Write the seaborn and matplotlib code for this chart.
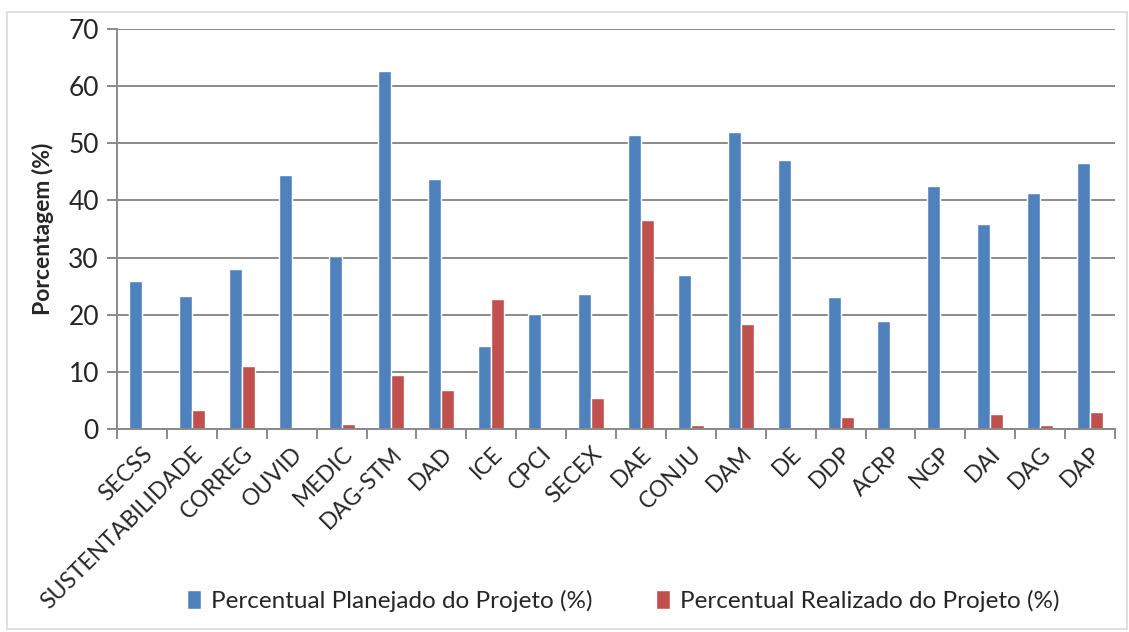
import matplotlib
matplotlib.use("Agg")
import matplotlib.pyplot as plt
from matplotlib.patches import Rectangle
import seaborn as sns
import pandas as pd

unidades = ["SECSS", "SUSTENTABILIDADE", "CORREG", "OUVID", "MEDIC", "DAG-STM", "DAD",
            "ICE", "CPCI", "SECEX", "DAE", "CONJU", "DAM", "DE", "DDP", "ACRP", "NGP",
            "DAI", "DAG", "DAP"]
planejado = [25.9, 23.2, 28.0, 44.5, 30.3, 62.6, 43.7, 14.5, 20.1, 23.7, 51.4, 27.0,
             52.0, 47.1, 23.1, 18.9, 42.6, 35.8, 41.3, 46.5]
realizado = [0.0, 3.3, 11.1, 0.0, 0.8, 9.5, 6.8, 22.8, 0.0, 5.4, 36.5, 0.7,
             18.3, 0.0, 2.1, 0.0, 0.0, 2.7, 0.7, 2.9]
series = ["Percentual Planejado do Projeto (%)", "Percentual Realizado do Projeto (%)"]
cores = ["#4F81BD", "#C0504D"]
y_ticks = [0, 10, 20, 30, 40, 50, 60, 70]

df = pd.DataFrame({
    "Unidade": unidades * 2,
    "Serie": [series[0]] * len(unidades) + [series[1]] * len(unidades),
    "Valor": planejado + realizado,
})

sns.set_style("white")
plt.rcParams["font.family"] = ["Lato", "DejaVu Sans"]

fig = plt.figure(figsize=(11.29, 6.32), dpi=100)
ax = fig.add_axes([117 / 1129, 1 - 429 / 632, (1115 - 117) / 1129, 400 / 632])

sns.barplot(data=df, x="Unidade", y="Valor", hue="Serie", palette=cores,
            width=0.52, gap=0, ax=ax, edgecolor="white", linewidth=1.0,
            saturation=1, legend=False)

ax.set_ylim(0, 70)
ax.set_xlim(-0.5, len(unidades) - 0.5)
ax.set_yticks(y_ticks)
ax.set_yticklabels([str(v) for v in y_ticks], fontsize=19)
ax.yaxis.grid(True, color="#8A8A8A", linewidth=1.4)
ax.set_axisbelow(True)

for side in ["top", "right"]:
    ax.spines[side].set_visible(False)
for side in ["left", "bottom"]:
    ax.spines[side].set_color("#8A8A8A")
    ax.spines[side].set_linewidth(1.4)

# tick marks sit on category boundaries, labels at category centres
ax.set_xticks([i - 0.5 for i in range(len(unidades) + 1)], minor=False)
ax.set_xticklabels([""] * (len(unidades) + 1))
ax.set_xticks(range(len(unidades)), minor=True)
ax.set_xticklabels(unidades, minor=True, rotation=45, ha="right",
                   rotation_mode="anchor", fontsize=16.5)
ax.tick_params(axis="x", which="major", direction="out", length=7, width=1.4,
               color="#8A8A8A", bottom=True)
ax.tick_params(axis="x", which="minor", length=0, pad=10)
ax.tick_params(axis="y", direction="out", length=7, width=1.4, color="#8A8A8A",
               left=True, pad=6)

ax.set_xlabel("")
ax.set_ylabel("Porcentagem (%)", fontsize=16.5, fontweight="bold", labelpad=10)

handles = [Rectangle((0, 0), 1, 1, facecolor=c, edgecolor="white") for c in cores]
fig.legend(handles, series, loc="center", bbox_to_anchor=(0.552, 1 - 601 / 632),
           ncol=2, frameon=False, fontsize=17.5, handlelength=0.6, handleheight=0.8,
           handletextpad=0.4, columnspacing=2.6)

# light frame around the whole chart
fig.patches.append(Rectangle((7 / 1129, 1 - 629 / 632), 1120 / 1129, 617 / 632,
                             transform=fig.transFigure, fill=False,
                             edgecolor="#D9D9D9", linewidth=1.2))

fig.savefig("out.png", dpi=100)
